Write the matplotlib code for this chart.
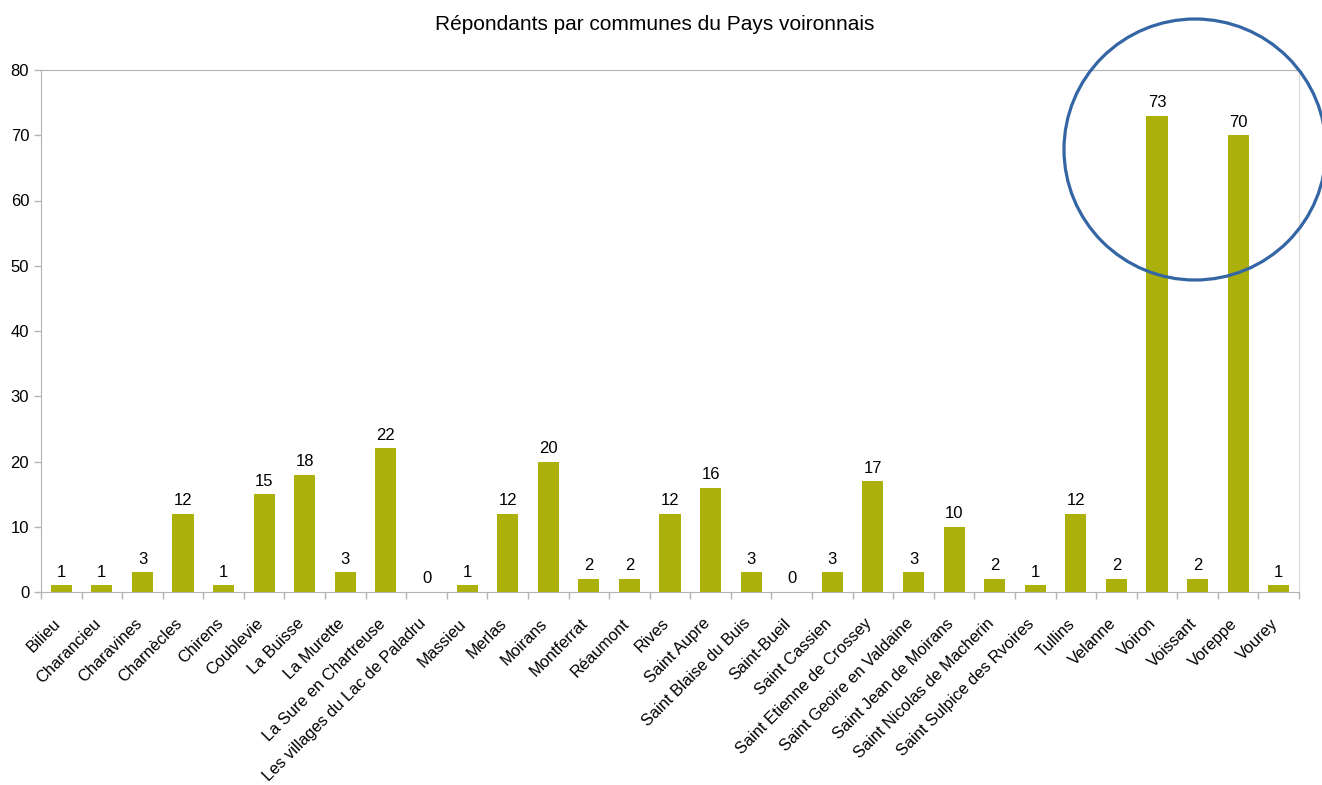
import matplotlib.pyplot as plt
import matplotlib.transforms as mtransforms
from matplotlib.patches import Ellipse
import numpy as np

plt.rcParams['font.family'] = ['Liberation Sans', 'DejaVu Sans']

communes = ['Bilieu', 'Charancieu', 'Charavines', 'Charnècles', 'Chirens',
            'Coublevie', 'La Buisse', 'La Murette', 'La Sure en Chartreuse',
            'Les villages du Lac de Paladru', 'Massieu', 'Merlas', 'Moirans',
            'Montferrat', 'Réaumont', 'Rives', 'Saint Aupre',
            'Saint Blaise du Buis', 'Saint-Bueil', 'Saint Cassien',
            'Saint Etienne de Crossey', 'Saint Geoire en Valdaine',
            'Saint Jean de Moirans', 'Saint Nicolas de Macherin',
            'Saint Sulpice des Rvoires', 'Tullins', 'Velanne', 'Voiron',
            'Voissant', 'Voreppe', 'Vourey']
repondants = [1, 1, 3, 12, 1, 15, 18, 3, 22, 0, 1, 12, 20, 2, 2, 12, 16, 3,
              0, 3, 17, 3, 10, 2, 1, 12, 2, 73, 2, 70, 1]
yticks = list(range(0, 81, 10))

fig = plt.figure(figsize=(13.22, 7.85), dpi=100)
ax = fig.add_axes([41/1322, 1-592/785, (1299-41)/1322, (592-70)/785])

x = np.arange(len(communes))
bars = ax.bar(x, repondants, width=0.52, color='#abb10a', zorder=2)
for b, v in zip(bars, repondants):
    ax.annotate(str(v), (b.get_x() + b.get_width()/2, v), xytext=(0, 4),
                textcoords='offset points', ha='center', va='bottom',
                fontsize=12, color='#000000')

ax.set_xlim(-0.5, len(communes) - 0.5)
ax.set_ylim(0, 80)
ax.set_yticks(yticks)
ax.set_xticks(x)
ax.set_xticklabels(communes, rotation=45, ha='right', va='center',
                   rotation_mode='anchor', fontsize=11.8)
ax.set_xticks(np.arange(len(communes) + 1) - 0.5, minor=True)
ax.tick_params(axis='x', which='major', length=0, pad=21)
ax.tick_params(axis='x', which='minor', length=5, color='#b3b3b3', width=1)
ax.tick_params(axis='y', length=5, color='#b3b3b3', width=1, labelsize=12)

# nudge the rotated labels a little to the left
shift = mtransforms.ScaledTranslation(-3/100, 0, fig.dpi_scale_trans)
for lbl in ax.get_xticklabels():
    lbl.set_transform(lbl.get_transform() + shift)

for s in ['left', 'bottom', 'top']:
    ax.spines[s].set_color('#b3b3b3')
ax.spines['right'].set_color('#d9d9d9')

fig.text(655/1322, 1-24/785, 'Répondants par communes du Pays voironnais',
         ha='center', va='center', fontsize=15)

# highlight circle around Voiron / Voreppe
circle = Ellipse((1195/1322, 1-149.5/785), 262/1322, 261/785,
                 transform=fig.transFigure, fill=False,
                 edgecolor='#3465a4', linewidth=2.3)
fig.patches.append(circle)

fig.savefig('out.png', dpi=100)
